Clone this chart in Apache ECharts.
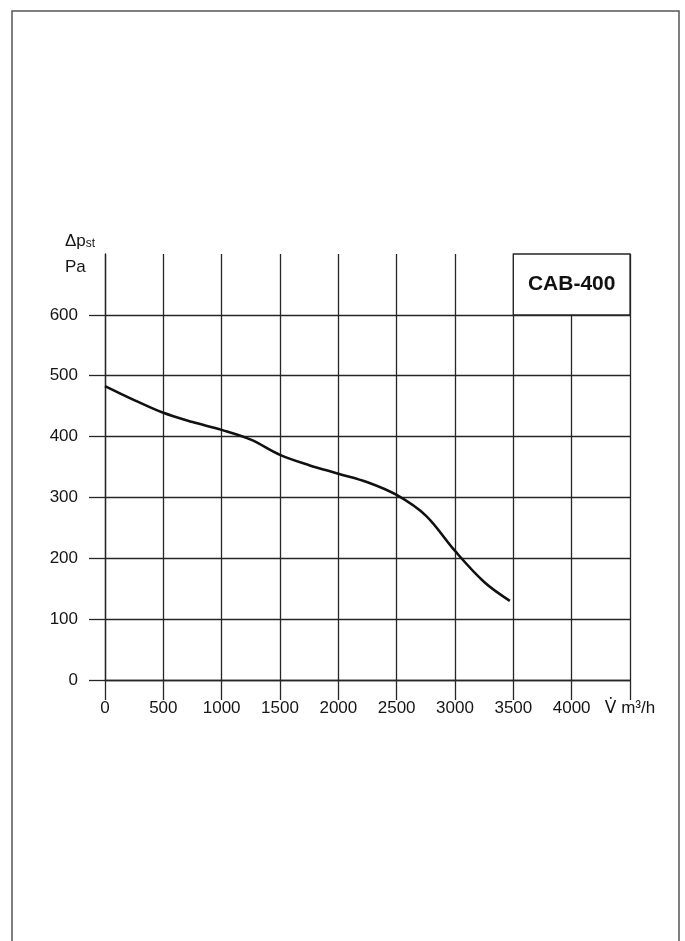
<!DOCTYPE html>
<html>
<head>
<meta charset="utf-8">
<script src="https://cdn.jsdelivr.net/npm/echarts@6/dist/echarts.min.js"></script>
<style>
  html, body { margin: 0; padding: 0; background: #fff; }
  #chart { width: 685px; height: 941px; }
</style>
</head>
<body>
<div id="chart"></div>
<script>
var chart = echarts.init(document.getElementById('chart'));

// fan curve (flow m3/h, static pressure Pa)
var flow = [0, 250, 500, 750, 1000, 1250, 1500, 1750, 2000, 2250, 2500, 2750, 3000, 3250, 3470];
var pressure = [483, 460, 439, 424, 411, 395, 370, 353, 339, 325, 304, 270, 212, 161, 130];

var xTicks = [0, 500, 1000, 1500, 2000, 2500, 3000, 3500, 4000, 4500];
var yTicks = [0, 100, 200, 300, 400, 500, 600];
var modelName = 'CAB-400';

var curve = [];
for (var i = 0; i < flow.length; i++) {
  curve.push([flow[i], pressure[i]]);
}

var ink = '#151515';
var gridLine = '#262626';
var font = 'Liberation Sans, Arial, sans-serif';

option = {
  backgroundColor: '#fff',
  animation: false,
  grid: {
    left: 105,
    right: 55,
    top: 254,
    bottom: 261
  },
  xAxis: {
    type: 'value',
    min: 0,
    max: 4500,
    interval: 500,
    axisLine: { show: true, lineStyle: { color: gridLine, width: 1.3 } },
    axisTick: {
      show: true,
      inside: false,
      length: 20,
      customValues: xTicks,
      lineStyle: { color: gridLine, width: 1.3 }
    },
    axisLabel: {
      color: ink,
      fontSize: 17,
      fontFamily: font,
      margin: 20,
      showMaxLabel: true,
      formatter: function (v) {
        return v === 4500 ? '{v|V\u0307} m\u00b3/h' : String(v);
      },
      rich: {
        v: { fontSize: 17, fontFamily: 'DejaVu Sans', color: ink }
      }
    },
    splitLine: { show: true, lineStyle: { color: gridLine, width: 1.3 } }
  },
  yAxis: {
    type: 'value',
    min: 0,
    max: 700,
    interval: 100,
    axisLine: { show: true, lineStyle: { color: gridLine, width: 1.3 } },
    axisTick: {
      show: true,
      inside: false,
      length: 16,
      customValues: yTicks,
      lineStyle: { color: gridLine, width: 1.3 }
    },
    axisLabel: {
      color: ink,
      fontSize: 17,
      fontFamily: font,
      margin: 27,
      customValues: yTicks
    },
    splitLine: { show: true, lineStyle: { color: gridLine, width: 1.3 } }
  },
  graphic: [
    {
      // scanned page border
      type: 'polyline',
      shape: { points: [[12, 941], [12, 11], [679, 11], [679, 941]] },
      style: { stroke: '#555', lineWidth: 1.5, fill: null },
      silent: true
    },
    {
      type: 'text',
      left: 65,
      top: 233,
      style: {
        text: '{a|\u0394p}{b|st}',
        rich: {
          a: { fontSize: 17, fontFamily: font, fill: ink },
          b: { fontSize: 12, fontFamily: font, fill: ink, padding: [4, 0, 0, 0] }
        }
      }
    },
    {
      type: 'text',
      left: 65,
      top: 259,
      style: {
        text: 'Pa',
        fontSize: 17,
        fontFamily: font,
        fill: ink
      }
    }
  ],
  series: [
    {
      type: 'line',
      data: curve,
      smooth: 0.35,
      showSymbol: false,
      lineStyle: { color: '#111', width: 2.6 },
      z: 5,
      markArea: {
        silent: true,
        itemStyle: { color: '#fff', borderColor: gridLine, borderWidth: 1.3 },
        label: {
          show: true,
          position: 'inside',
          color: '#111',
          fontSize: 21,
          fontWeight: 'bold',
          fontFamily: font
        },
        data: [[
          { name: modelName, coord: [3500, 600] },
          { coord: [4500, 700] }
        ]]
      }
    }
  ]
};

if (option && typeof option === 'object') {
  chart.setOption(option, true);
}
</script>
</body>
</html>
